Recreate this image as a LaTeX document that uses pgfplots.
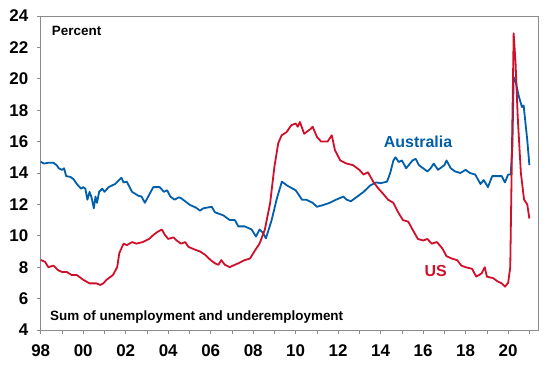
\documentclass[border=0pt]{standalone}
\usepackage{fontspec}
\setmainfont{Liberation Sans}
\usepackage{pgfplots}
\pgfplotsset{compat=1.18}
\usetikzlibrary{calc}
\definecolor{ausblue}{RGB}{0,94,170}
\definecolor{usred}{RGB}{208,16,42}
\definecolor{axgray}{RGB}{140,140,140}
\begin{document}
\begin{tikzpicture}
\begin{axis}[
 width=497.6bp, height=314bp, scale only axis,
 xmin=1998, xmax=2021.42, ymin=4, ymax=24,
 axis line style={axgray, line width=0.8bp},
 xtick={1998,2000,...,2020},
 xticklabels={98,00,02,04,06,08,10,12,14,16,18,20},
 minor xtick={1999,2001,...,2021},
 ytick={4,6,...,24},
 tick align=outside, xtick pos=left, ytick pos=left,
 major tick length=4bp, minor tick length=4bp,
 tick style={axgray, line width=0.8bp},
 ticklabel style={font=\fontsize{17}{20}\selectfont\bfseries},
 xticklabel style={yshift=-7bp},
 yticklabel style={xshift=-5bp},
 /pgf/number format/assume math mode=true,
 clip=false,
 every axis plot/.append style={line width=1.8bp, line join=round},
]
\coordinate (bl) at (rel axis cs:0,0);
\coordinate (tr) at (rel axis cs:1,1);
\addplot[ausblue, mark=none] coordinates {
(1998.00,14.72)(1998.15,14.6)(1998.35,14.65)(1998.6,14.65)(1998.75,14.5)(1998.85,14.3)
(1999.0,14.2)(1999.1,14.3)(1999.2,13.8)(1999.4,13.75)(1999.55,13.6)(1999.7,13.3)(1999.9,13.0)
(2000.0,13.1)(2000.1,13.0)(2000.2,12.3)(2000.3,12.8)(2000.4,12.4)(2000.5,11.75)(2000.58,12.5)
(2000.65,12.1)(2000.75,12.8)(2000.9,13.0)(2001.0,12.8)(2001.2,13.1)(2001.5,13.3)(2001.8,13.7)
(2001.9,13.4)(2002.05,13.45)(2002.3,12.8)(2002.6,12.55)(2002.75,12.5)(2002.9,12.1)(2003.1,12.6)
(2003.3,13.1)(2003.6,13.1)(2003.8,12.8)(2003.95,12.9)(2004.1,12.5)(2004.3,12.3)(2004.5,12.45)
(2004.6,12.4)(2004.8,12.2)(2005.03,11.96)(2005.3,11.8)(2005.5,11.6)(2005.65,11.75)(2006.05,11.85)
(2006.2,11.5)(2006.6,11.3)(2006.9,11.0)(2007.14,11.0)(2007.3,10.6)(2007.6,10.6)(2007.93,10.4)
(2008.13,9.95)(2008.3,10.4)(2008.45,10.2)(2008.6,9.84)(2008.87,11.0)(2009.1,12.3)(2009.35,13.45)
(2009.6,13.2)(2010.0,12.9)(2010.3,12.3)(2010.5,12.3)(2010.8,12.1)(2011.0,11.85)(2011.3,11.96)
(2011.6,12.1)(2011.9,12.3)(2012.25,12.5)(2012.4,12.3)(2012.6,12.2)(2012.9,12.5)(2013.2,12.8)
(2013.5,13.2)(2013.8,13.4)(2014.0,13.35)(2014.3,13.45)(2014.45,14.0)(2014.6,14.8)(2014.7,15.0)
(2014.85,14.7)(2015.0,14.8)(2015.2,14.3)(2015.5,14.8)(2015.65,14.9)(2015.8,14.5)(2016.0,14.3)
(2016.2,14.1)(2016.35,14.3)(2016.5,14.6)(2016.7,14.2)(2017.0,14.5)(2017.1,14.8)(2017.3,14.3)
(2017.5,14.1)(2017.75,14.0)(2018.0,14.2)(2018.2,14.0)(2018.45,13.9)(2018.7,13.3)(2018.85,13.55)
(2019.05,13.1)(2019.25,13.8)(2019.5,13.8)(2019.7,13.8)(2019.85,13.4)(2020.0,13.9)(2020.12,13.9)
(2020.2,15.7)(2020.26,20.1)(2020.34,19.9)(2020.5,18.9)(2020.65,18.2)(2020.73,18.3)(2020.9,16.1)
(2021.0,14.5)
};
\addplot[usred, mark=none] coordinates {
(1998.0,8.46)(1998.2,8.35)(1998.36,8.0)(1998.6,8.1)(1998.83,7.8)(1999.0,7.7)(1999.22,7.7)
(1999.46,7.5)(1999.7,7.5)(2000.0,7.2)(2000.3,6.97)(2000.63,6.97)(2000.8,6.87)(2000.95,6.97)
(2001.1,7.2)(2001.4,7.5)(2001.6,8.0)(2001.7,8.9)(2001.9,9.5)(2002.05,9.4)(2002.3,9.6)(2002.5,9.5)
(2002.8,9.6)(2003.1,9.8)(2003.3,10.05)(2003.5,10.25)(2003.7,10.4)(2003.85,10.05)(2004.0,9.8)
(2004.25,9.9)(2004.4,9.7)(2004.6,9.5)(2004.8,9.6)(2004.95,9.3)(2005.2,9.15)(2005.5,9.0)
(2005.73,8.8)(2006.0,8.45)(2006.2,8.25)(2006.36,8.15)(2006.5,8.45)(2006.67,8.15)(2006.9,8.0)
(2007.05,8.1)(2007.3,8.25)(2007.6,8.45)(2007.85,8.55)(2008.1,9.1)(2008.3,9.5)(2008.55,10.4)
(2008.8,12.1)(2009.0,14.4)(2009.18,15.9)(2009.34,16.4)(2009.57,16.6)(2009.8,17.05)(2010.0,17.15)
(2010.1,16.95)(2010.2,17.25)(2010.4,16.5)(2010.7,16.8)(2010.8,16.95)(2011.0,16.3)(2011.2,16.0)
(2011.5,16.0)(2011.7,16.4)(2011.85,15.45)(2012.1,14.8)(2012.4,14.6)(2012.7,14.5)(2013.0,14.2)
(2013.2,13.9)(2013.4,14.05)(2013.65,13.45)(2013.9,13.0)(2014.1,12.7)(2014.35,12.3)(2014.6,12.1)
(2014.8,11.55)(2015.05,11.0)(2015.3,10.9)(2015.5,10.4)(2015.75,9.8)(2016.0,9.7)(2016.2,9.8)
(2016.4,9.5)(2016.65,9.6)(2016.9,9.2)(2017.1,8.7)(2017.35,8.55)(2017.6,8.45)(2017.8,8.1)
(2018.0,8.0)(2018.3,7.9)(2018.5,7.4)(2018.75,7.6)(2018.9,8.0)(2019.0,7.4)(2019.3,7.3)
(2019.5,7.1)(2019.7,6.97)(2019.85,6.76)(2020.0,7.0)(2020.1,8.0)(2020.26,22.9)(2020.35,21.0)
(2020.45,17.6)(2020.6,14.0)(2020.75,12.3)(2020.9,12.0)(2021.0,11.1)
};
\node[anchor=west, font=\fontsize{13.5}{16}\selectfont\bfseries, inner sep=0pt] at (axis cs:1998.52,23.04) {Percent};
\node[anchor=west, font=\fontsize{13.5}{16}\selectfont\bfseries, inner sep=0pt] at (axis cs:1998.44,4.85) {Sum of unemployment and underemployment};
\node[font=\fontsize{16}{19}\selectfont\bfseries, text=ausblue, inner sep=0pt] at (axis cs:2015.76,15.97) {Australia};
\node[font=\fontsize{16}{19}\selectfont\bfseries, text=usred, inner sep=0pt] at (axis cs:2016.59,7.78) {US};
\end{axis}
\pgfresetboundingbox
\path ($(bl)+(-40.7bp,-36bp)$) rectangle ($(tr)+(9.7bp,16bp)$);
\end{tikzpicture}
\end{document}
